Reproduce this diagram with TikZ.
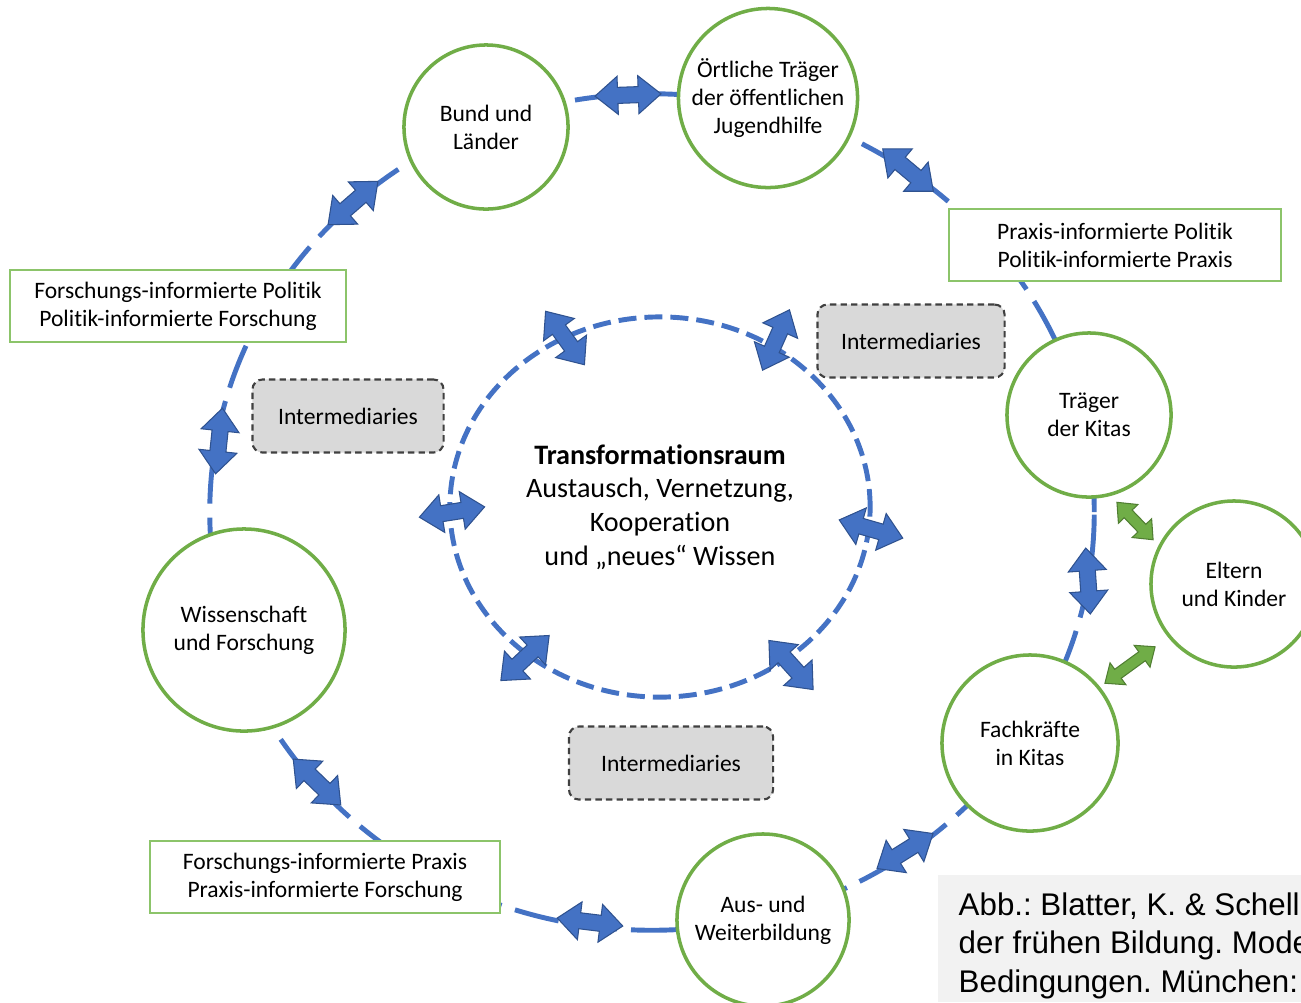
\documentclass[tikz,border=0pt]{standalone}
\usepackage{fontspec}
\setmainfont{Carlito}[Ligatures=NoCommon]
\newfontfamily\capfont{Liberation Sans}
\frenchspacing
\usetikzlibrary{shapes.geometric}
\usetikzlibrary{shapes.arrows}

\definecolor{ringblue}{HTML}{4472C4}
\definecolor{arrowedge}{HTML}{2F528F}
\definecolor{akteurgreen}{HTML}{70AD47}
\definecolor{greenedge}{HTML}{507E32}
\definecolor{boxgreen}{HTML}{8CC46A}
\definecolor{imgray}{HTML}{D9D9D9}
\definecolor{imedge}{HTML}{404040}
\definecolor{capgray}{HTML}{F2F2F2}

\tikzset{
  akteur/.style={circle, draw=akteurgreen, line width=1pt, fill=white, align=center, inner sep=0pt, font=\fontsize{6.7}{8}\selectfont},
  infobox/.style={rectangle, draw=boxgreen, line width=0.6pt, fill=white, align=center, inner sep=0pt, minimum height=0.72cm, font=\fontsize{6.7}{8}\selectfont},
  intermed/.style={rectangle, rounded corners=0.1cm, draw=imedge, dash pattern=on 1.8pt off 1.2pt, line width=0.6pt, fill=imgray, minimum height=0.73cm, font=\fontsize{6.7}{8}\selectfont},
  ring/.style={ellipse, draw=ringblue, line width=1.4pt, dash pattern=on 0.45cm off 0.14cm, inner sep=0pt},
  raum/.style={ellipse, draw=ringblue, line width=1.4pt, dash pattern=on 0.18cm off 0.08cm, align=center, inner sep=0pt, font=\fontsize{8}{9.6}\selectfont},
  blockarrow/.style={double arrow, fill=ringblue, draw=arrowedge, line width=0.3pt, inner xsep=0pt, inner ysep=0.075cm, double arrow head extend=0.11cm, double arrow tip angle=80, minimum height=0.66cm, minimum width=0pt},
  greenarrow/.style={double arrow, fill=akteurgreen, draw=greenedge, line width=0.3pt, inner xsep=0pt, inner ysep=0.05cm, double arrow head extend=0.08cm, double arrow tip angle=80, minimum width=0pt}
}

\begin{document}
\begin{tikzpicture}[x=0.01cm, y=-0.01cm]
		% fix the frame
		\useasboundingbox (0,0) rectangle (1301,1002);
		\clip (0,0) rectangle (1301,1002);
		
		% draw outer ring and inner space
		\node[ring, minimum width=8.84cm, minimum height=8.36cm] (kreis) at (652,512) {};
		\node[raum, minimum width=4.2cm, minimum height=3.8cm] (raum) at (660,507) {\textbf{Transformationsraum}\\Austausch, Vernetzung,\\Kooperation\\und „neues“ Wissen};
		
		% draw actors
		\node[akteur, minimum size=1.64cm] (bund) at (486,127) {Bund und\\Länder};
		\node[akteur, minimum size=1.79cm] (oert) at (768,98) {Örtliche Träger\\der öffentlichen\\Jugendhilfe};
		\node[akteur, minimum size=1.64cm] (traeger) at (1089,415) {Träger\\der Kitas};
		\node[akteur, minimum size=1.66cm] (eltern) at (1234,584) {Eltern\\und Kinder};
		\node[akteur, minimum size=1.76cm] (fach) at (1030,743) {Fachkräfte\\in Kitas};
		\node[akteur, minimum size=1.72cm] (aus) at (763,920) {Aus- und\\Weiterbildung};
		\node[akteur, minimum size=2.02cm] (wiss) at (244,630) {Wissenschaft\\und Forschung};
		
		% draw link boxes
		\node[infobox, minimum width=3.36cm] (fpol) at (178,306) {Forschungs-informierte Politik\\Politik-informierte Forschung};
		\node[infobox, minimum width=3.31cm] (ppol) at (1115,245) {Praxis-informierte Politik\\Politik-informierte Praxis};
		\node[infobox, minimum width=3.50cm] (fprax) at (325,877) {Forschungs-informierte Praxis\\Praxis-informierte Forschung};
		
		% draw intermediaries
		\node[intermed, minimum width=1.91cm] (inter1) at (348,416) {Intermediaries};
		\node[intermed, minimum width=1.87cm] (inter2) at (911,341) {Intermediaries};
		\node[intermed, minimum width=2.04cm] (inter3) at (671,763) {Intermediaries};
		
		% draw exchange arrows
		\foreach \an/\ax/\ay/\aw in {p1/628/95/2, p2/908/170/-40, p3/1088/581/94, p4/905/851/32, p5/590/922/-7, p6/317/782/-44, p7/219/441/84, p8/353/203/41, t1/565/338/-54, t2/776/340/66, t3/452/512/9, t4/871/529/-16, t5/525/658/43, t6/791/665/-48}
		\node[blockarrow, rotate=\aw] (\an) at (\ax,\ay) {};
		
		\node[greenarrow, rotate=-46, minimum height=0.52cm] (g1) at (1135,521) {};
		\node[greenarrow, rotate=36, minimum height=0.62cm] (g2) at (1130,665) {};
		
		% source line
		\fill[capgray] (938,875) rectangle (1301,1002);
		\node[anchor=north west, inner sep=0pt, align=left, font=\capfont\fontsize{8.9}{10.95}\selectfont] (quelle) at (958,892) {Abb.: Blatter, K. \& Schell\\der frühen Bildung. Mode\\Bedingungen. München:};
		
		\end{tikzpicture}
\end{document}
